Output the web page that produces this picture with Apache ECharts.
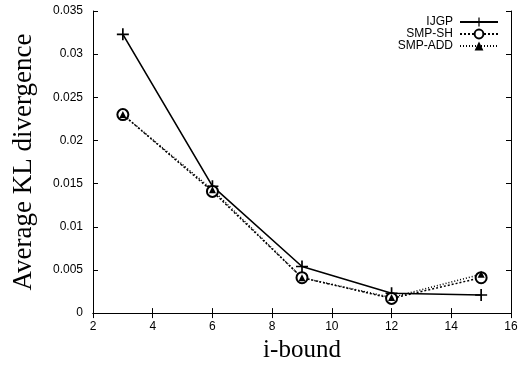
<!DOCTYPE html>
<html><head><meta charset="utf-8">
<script src="https://cdn.jsdelivr.net/npm/echarts@6/dist/echarts.min.js"></script>
<style>html,body{margin:0;padding:0;background:#fff}#c{width:521px;height:368px}</style>
</head><body><div id="c"></div>
<script>
const iBound = [3, 6, 9, 12, 15];
const ijgp = [0.0323, 0.0147, 0.0054, 0.0023, 0.0021];
const smpSH = [0.0230, 0.0141, 0.0041, 0.0017, 0.0041];
const smpADD = [0.0230, 0.0143, 0.0041, 0.0018, 0.0045];
const xTicks = [2, 4, 6, 8, 10, 12, 14, 16];
const yTicks = [0, 0.005, 0.01, 0.015, 0.02, 0.025, 0.03, 0.035];

const plus = 'path://M4.3,0H5.7V4.3H10V5.7H5.7V10H4.3V5.7H0V4.3H4.3Z';
const pair = (xs, ys) => xs.map((x, i) => [x, ys[i]]);
const tickFont = {fontFamily: 'Liberation Sans', fontSize: 12, color: '#000'};
const chart = echarts.init(document.getElementById('c'), null, {renderer: 'canvas'});
const axBase = {
  axisLine: {show: true, lineStyle: {color: '#000', width: 1}},
  axisTick: {show: true, inside: true, length: 5, lineStyle: {color: '#000'}},
  splitLine: {show: false}
};
chart.setOption({
  animation: false,
  backgroundColor: '#fff',
  grid: {left: 93, right: 10, top: 11, bottom: 50},
  legend: {
    top: 16, right: 22, orient: 'vertical', align: 'right', padding: 0,
    itemWidth: 38, itemHeight: 11, itemGap: 0,
    textStyle: {fontFamily: 'Liberation Sans', fontSize: 12, color: '#000', lineHeight: 11, height: 11, padding: [0, 2, 0, 0]},
    data: ['IJGP', 'SMP-SH', 'SMP-ADD']
  },
  xAxis: [
    Object.assign({type: 'value', min: 2, max: 16, interval: 2, position: 'bottom',
      name: 'i-bound', nameLocation: 'middle', nameGap: 24,
      nameTextStyle: {fontFamily: 'Liberation Serif', fontSize: 25, color: '#000'},
      axisLabel: Object.assign({margin: 8, formatter: v => xTicks.includes(v) ? String(v) : ''}, tickFont)}, axBase),
    Object.assign({type: 'value', min: 2, max: 16, interval: 2, position: 'top',
      axisLabel: {show: false}}, axBase)
  ],
  yAxis: [
    Object.assign({type: 'value', min: 0, max: 0.035, interval: 0.005, position: 'left',
      name: 'Average KL divergence', nameLocation: 'middle', nameGap: 56,
      nameTextStyle: {fontFamily: 'Liberation Serif', fontSize: 27, color: '#000'},
      axisLabel: Object.assign({margin: 10, formatter: v => {
        const t = yTicks.find(y => Math.abs(y - v) < 1e-9);
        return t === undefined ? '' : String(+t.toFixed(3));
      }}, tickFont)}, axBase),
    Object.assign({type: 'value', min: 0, max: 0.035, interval: 0.005, position: 'right',
      axisLabel: {show: false}}, axBase)
  ],
  series: [
    {name: 'IJGP', type: 'line', data: pair(iBound, ijgp), symbol: plus, symbolSize: 12,
      lineStyle: {color: '#000', width: 1.6}, itemStyle: {color: '#000'}},
    {name: 'SMP-SH', type: 'line', data: pair(iBound, smpSH), symbol: 'emptyCircle', symbolSize: 11,
      lineStyle: {color: '#000', width: 1.5, type: [2, 2]},
      itemStyle: {color: '#000', borderColor: '#000', borderWidth: 2}},
    {name: 'SMP-ADD', type: 'line', data: pair(iBound, smpADD), symbol: 'triangle', symbolSize: 7,
      lineStyle: {color: '#000', width: 1.5, type: [1, 2]}, itemStyle: {color: '#000'}}
  ]
});
</script></body></html>
